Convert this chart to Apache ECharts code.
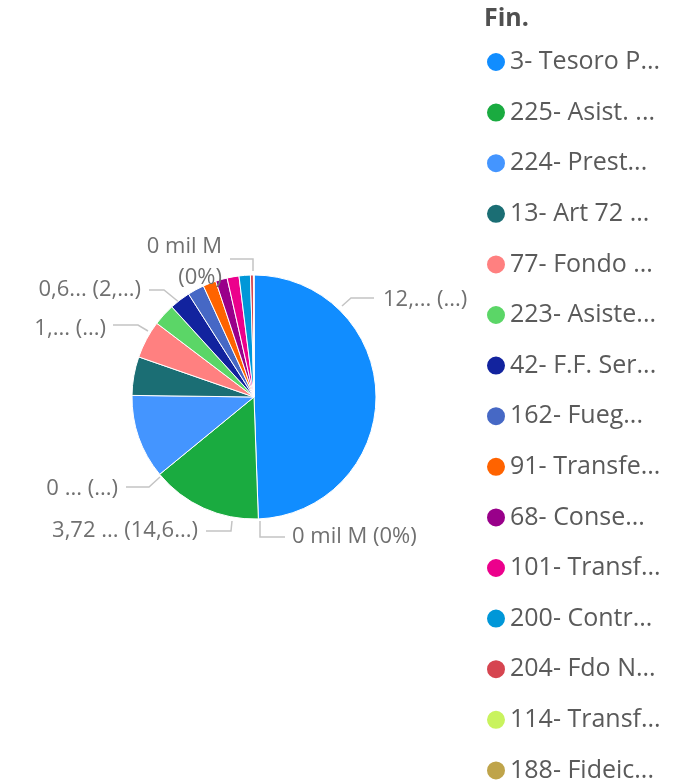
<!DOCTYPE html>
<html>
<head>
<meta charset="utf-8">
<script src="https://cdn.jsdelivr.net/npm/echarts@6/dist/echarts.min.js"></script>
<style>
html, body { margin: 0; padding: 0; background: #fff; }
#main { width: 686px; height: 784px; }
</style>
</head>
<body>
<div id="main"></div>
<script>
// legend names (already truncated as in the report)
var names = ['3- Tesoro P...', '225- Asist. ...', '224- Prest...', '13- Art 72 ...', '77- Fondo ...',
	'223- Asiste...', '42- F.F. Ser...', '162- Fueg...', '91- Transfe...', '68- Conse...',
	'101- Transf...', '200- Contr...', '204- Fdo N...', '114- Transf...', '188- Fideic...'];
// amounts in mil M
var values = [12.56, 3.72, 2.83, 1.30, 1.27, 0.74, 0.70, 0.56, 0.44, 0.39, 0.40, 0.38, 0.10, 0.013, 0.006];
var colors = ['#118DFF', '#1AAB40', '#4495FF', '#1B6E74', '#FF8080', '#5BD667', '#12239E', '#4668C5',
	'#FF6300', '#99008A', '#EC008C', '#0097D8', '#D64550', '#C9F35E', '#BFA44A'];
// data labels shown on the pie ('' = none)
var labels = ['12,... (...)', '3,72 ... (14,6...)', '0 ... (...)', '', '1,... (...)',
	'', '0,6... (2,...)', '', '', '', '', '', '', '0 mil M (0%)', '0 mil M\n(0%)'];

// where each label sits and how its leader line runs
var labelPos = {
	0: { x: 383, y: 300, align: 'left', line: [[342, 306], [351, 298], [374, 298]] },
	1: { x: 198, y: 531, align: 'right', line: [[232, 521], [231, 531], [206, 531]] },
	2: { x: 118, y: 489, align: 'right', line: [[160, 477], [149, 487], [126, 487]] },
	4: { x: 106, y: 329, align: 'right', line: [[148, 331], [138, 325], [113, 325]] },
	6: { x: 141, y: 290, align: 'right', line: [[180, 303], [164, 290], [149, 290]] },
	13: { x: 292, y: 537, align: 'left', line: [[260, 521], [260, 537], [285, 537]] },
	14: { x: 222, y: 262, align: 'right', line: [[253, 271], [253, 259], [230, 259]] }
};

var data = [];
for (var i = 0; i < names.length; i++) {
	data.push({
		name: names[i],
		value: values[i],
		itemStyle: { color: colors[i] },
		label: { show: labels[i] !== '' },
		labelLine: { show: labels[i] !== '' }
	});
}

var myChart = echarts.init(document.getElementById('main'));
var option = {
	animation: false,
	title: {
		text: 'Fin.',
		left: 484,
		top: 6,
		padding: 0,
		textStyle: { fontFamily: 'Open Sans', fontSize: 25, fontWeight: 'bold', color: '#505050' }
	},
	legend: {
		orient: 'vertical',
		left: 485,
		top: 49.5,
		height: 1000,
		padding: 0,
		icon: 'circle',
		itemWidth: 20,
		itemHeight: 20,
		itemGap: 25.6,
		selectedMode: false,
		data: names,
		textStyle: { fontFamily: 'Open Sans', fontSize: 25, color: '#5a5a5a', lineHeight: 25, padding: [0, 0, 0, -1] }
	},
	series: [{
		type: 'pie',
		center: [254, 397],
		radius: 122,
		startAngle: 90,
		clockwise: true,
		avoidLabelOverlap: false,
		itemStyle: { borderColor: '#fff', borderWidth: 1 },
		label: {
			fontFamily: 'Open Sans',
			fontSize: 22,
			color: '#707070',
			lineHeight: 31,
			formatter: function(p) { return labels[p.dataIndex]; }
		},
		labelLine: { lineStyle: { color: '#c4c4c4', width: 1.5 } },
		labelLayout: function(p) {
			var l = labelPos[p.dataIndex];
			if (!l) return {};
			return { x: l.x, y: l.y, align: l.align, verticalAlign: 'middle', labelLinePoints: l.line };
		},
		data: data
	}]
};
myChart.setOption(option);
</script>
</body>
</html>
